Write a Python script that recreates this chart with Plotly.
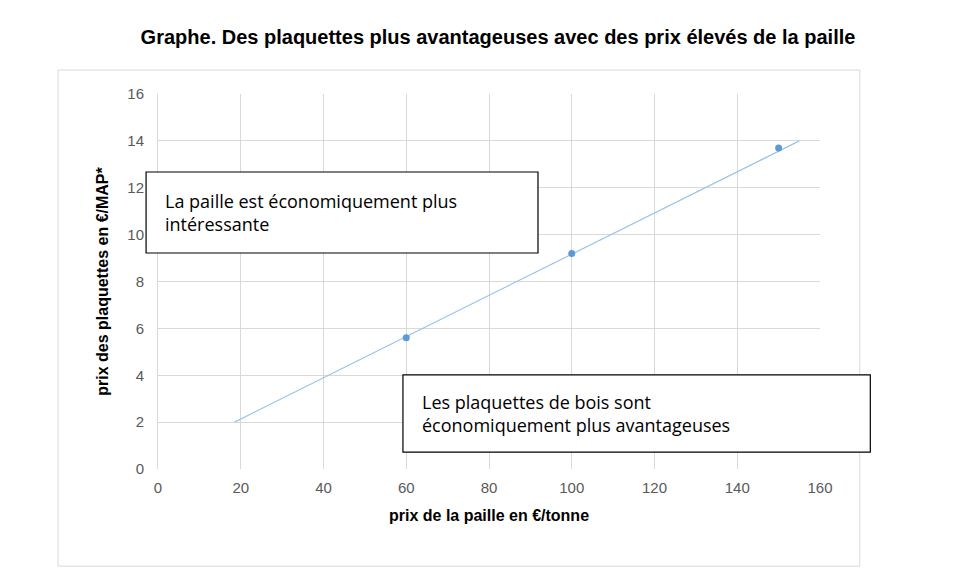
import plotly.graph_objects as go

# data
straw_price = [60, 100, 150]
chip_price = [5.6, 9.2, 13.7]
trend_x = [18.5, 155]
trend_y = [2.0, 14.0]

fig = go.Figure()
fig.add_trace(go.Scatter(x=trend_x, y=trend_y, mode='lines',
                         line=dict(color='#9dc3e6', width=1.2), hoverinfo='skip'))
fig.add_trace(go.Scatter(x=straw_price, y=chip_price, mode='markers',
                         marker=dict(color='#5b9bd5', size=7)))

fig.update_layout(
    width=980, height=576, showlegend=False,
    plot_bgcolor='white', paper_bgcolor='white',
    margin=dict(l=150, r=168, t=86, b=115, autoexpand=False),
    font=dict(family='Arial, Liberation Sans', color='#595959'),
    title=dict(text='<b>Graphe. Des plaquettes plus avantageuses avec des prix élevés de la paille</b>',
               x=0.5, xanchor='center', y=0.95, yanchor='middle',
               font=dict(size=20, color='black')),
)
fig.update_xaxes(range=[0, 160], dtick=20, showgrid=True, gridcolor='#d9d9d9',
                 zeroline=False, showline=False, ticks='', tickfont=dict(size=15),
                 ticklabelstandoff=8, automargin=False,
                 title=dict(text='<b>prix de la paille en €/tonne</b>',
                            font=dict(size=16, color='black'), standoff=14))
fig.update_yaxes(range=[0, 16], dtick=2, showgrid=True, gridcolor='#d9d9d9',
                 zeroline=False, showline=True, linecolor='#d9d9d9', ticks='',
                 tickfont=dict(size=15), ticklabelstandoff=10, automargin=False,
                 title=dict(text='<b>prix des plaquettes en €/MAP*</b>',
                            font=dict(size=16, color='black'), standoff=14))

# outer chart frame
fig.add_shape(type='rect', xref='paper', yref='paper', x0=-0.151, x1=1.06, y0=-0.259, y1=1.064,
              line=dict(color='#d9d9d9', width=1), layer='below')
# annotation boxes
fig.add_shape(type='rect', xref='paper', yref='paper', x0=-0.018, x1=0.574, y0=0.576, y1=0.792,
              line=dict(color='black', width=1.2), fillcolor='white')
fig.add_shape(type='rect', xref='paper', yref='paper', x0=0.370, x1=1.076, y0=0.045, y1=0.251,
              line=dict(color='black', width=1.2), fillcolor='white')
box_font = dict(size=18, color='black', family='Open Sans')
fig.add_annotation(xref='paper', yref='paper', x=0.0076, y=0.684, xanchor='left', yanchor='middle',
                   align='left', showarrow=False, font=box_font,
                   text='La paille est économiquement plus<br>intéressante')
fig.add_annotation(xref='paper', yref='paper', x=0.396, y=0.148, xanchor='left', yanchor='middle',
                   align='left', showarrow=False, font=box_font,
                   text='Les plaquettes de bois sont<br>économiquement plus avantageuses')

fig.write_html("out.html")
